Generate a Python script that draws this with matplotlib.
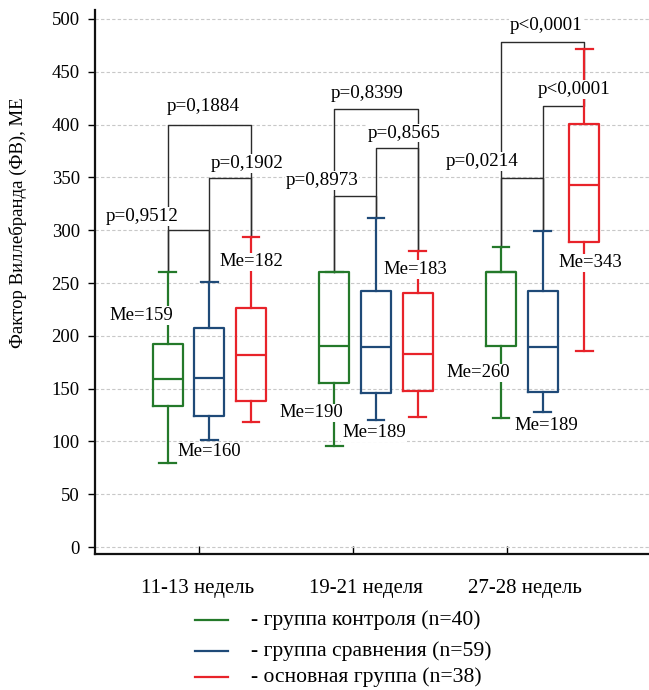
import matplotlib
matplotlib.use("Agg")
import matplotlib.pyplot as plt
from matplotlib.lines import Line2D

plt.rcParams['font.family'] = ['Liberation Serif', 'DejaVu Serif']

# ---------------- data ----------------
periods = ['11-13 недель', '19-21 неделя', '27-28 недель']
series_names = ['- группа контроля (n=40)', '- группа сравнения (n=59)', '- основная группа (n=38)']

control_whislo = [80, 96, 122]
control_q1 = [134, 155, 190]
control_med = [159, 190, 260]
control_q3 = [192, 260, 260]
control_whishi = [260, 260, 284]

compare_whislo = [101, 120, 128]
compare_q1 = [124, 146, 147]
compare_med = [160, 189, 189]
compare_q3 = [207, 242, 242]
compare_whishi = [251, 312, 299]

main_whislo = [118, 123, 186]
main_q1 = [138, 148, 289]
main_med = [182, 183, 343]
main_q3 = [226, 241, 401]
main_whishi = [294, 280, 472]

# comparisons per period: (series a, series b)
pairs = [(0, 1), (1, 2), (0, 2)]
p_texts = [['p=0,9512', 'p=0,1902', 'p=0,1884'],
           ['p=0,8973', 'p=0,8565', 'p=0,8399'],
           ['p=0,0214', 'p<0,0001', 'p<0,0001']]
bracket_levels = [[300, 349, 400],
                  [332, 378, 415],
                  [349, 418, 478]]

yticks = [0, 50, 100, 150, 200, 250, 300, 350, 400, 450, 500]

# ---------------- layout / style ----------------
W, H = 649, 690
colors = ['#24792a', '#1f4a78', '#e8232a']
offsets = [-0.25, 0.0, 0.25]
box_w = 0.18
FS = 13.5

# label positions (data units)
me_pos = [[(-0.405, 219), (0.001, 90), (0.254, 270)],
          [(0.614, 127), (0.988, 108), (1.239, 263)],
          [(1.611, 165), (2.022, 115), (2.284, 269)]]
p_pos = [[(-0.40, 313), (0.224, 363), (-0.036, 417)],
         [(0.676, 347), (1.168, 392), (0.945, 429)],
         [(1.634, 365), (2.191, 433), (2.019, 494)]]
tick_x = [-0.06, 0.864, 1.784]
label_x = [-0.068, 0.94, 1.894]

fig = plt.figure(figsize=(W / 100, H / 100), dpi=100)
ax = fig.add_axes([95 / W, (H - 554) / H, (649 - 95) / W, (554 - 10) / H])
ax.set_xlim(-0.6856, 2.638)
ax.set_ylim(-6.6, 508.5)

series = [
    (control_whislo, control_q1, control_med, control_q3, control_whishi),
    (compare_whislo, compare_q1, compare_med, compare_q3, compare_whishi),
    (main_whislo, main_q1, main_med, main_q3, main_whishi),
]

ax.set_yticks(yticks)
ax.yaxis.grid(True, linestyle=(0, (3, 2)), color='#c8c8c8', linewidth=0.8)
ax.set_axisbelow(True)

for s, (wl, q1, md, q3, wh) in enumerate(series):
    stats = []
    pos = []
    for g in range(len(periods)):
        stats.append(dict(whislo=wl[g], q1=q1[g], med=md[g], q3=q3[g], whishi=wh[g], fliers=[]))
        pos.append(g + offsets[s])
    c = colors[s]
    ax.bxp(stats, positions=pos, widths=box_w, showfliers=False, capwidths=0.1,
           boxprops=dict(color=c, linewidth=1.6),
           medianprops=dict(color=c, linewidth=1.6),
           whiskerprops=dict(color=c, linewidth=1.6),
           capprops=dict(color=c, linewidth=1.6), manage_ticks=False)

# brackets
for g in range(len(periods)):
    for k, (a, b) in enumerate(pairs):
        lvl = bracket_levels[g][k]
        xa = g + offsets[a]
        xb = g + offsets[b]
        ya = series[a][4][g]
        yb = series[b][4][g]
        ax.plot([xa, xa, xb, xb], [ya, lvl, lvl, yb], color='#2b2b2b', linewidth=1.0, zorder=1)
    for k in range(len(pairs)):
        px, py = p_pos[g][k]
        ax.text(px, py, p_texts[g][k], ha='center', va='center', fontsize=13.8,
                bbox=dict(facecolor='white', edgecolor='none', pad=0.5), zorder=5)
    for s in range(len(series)):
        mx, my = me_pos[g][s]
        ax.text(mx, my, 'Me=%d' % series[s][2][g], ha='center', va='center', fontsize=FS,
                bbox=dict(facecolor='white', edgecolor='none', pad=0.5), zorder=5)

# axes styling
for sp in ['top', 'right']:
    ax.spines[sp].set_visible(False)
for sp in ['left', 'bottom']:
    ax.spines[sp].set_linewidth(1.6)
    ax.spines[sp].set_color('#111111')
ax.tick_params(axis='y', direction='out', length=5, width=1, pad=6, labelsize=FS)
ax.set_xticks(tick_x)
ax.set_xticklabels([])
ax.tick_params(axis='x', direction='in', length=6, width=1)
for g, name in enumerate(periods):
    ax.text(label_x[g], -38.8, name, ha='center', va='center', fontsize=15, clip_on=False)

fig.text(18 / W, 1 - 223 / H, 'Фактор Виллебранда (ФВ), МЕ', rotation=90,
         ha='center', va='center', fontsize=FS)

# legend
leg_y = [620, 651, 677]
for s in range(len(series)):
    y = 1 - leg_y[s] / H
    fig.add_artist(Line2D([195 / W, 228 / W], [y, y], color=colors[s], linewidth=1.6))
    fig.text(251 / W, y, series_names[s], ha='left', va='center', fontsize=15.6)

fig.savefig('out.png', dpi=100)
